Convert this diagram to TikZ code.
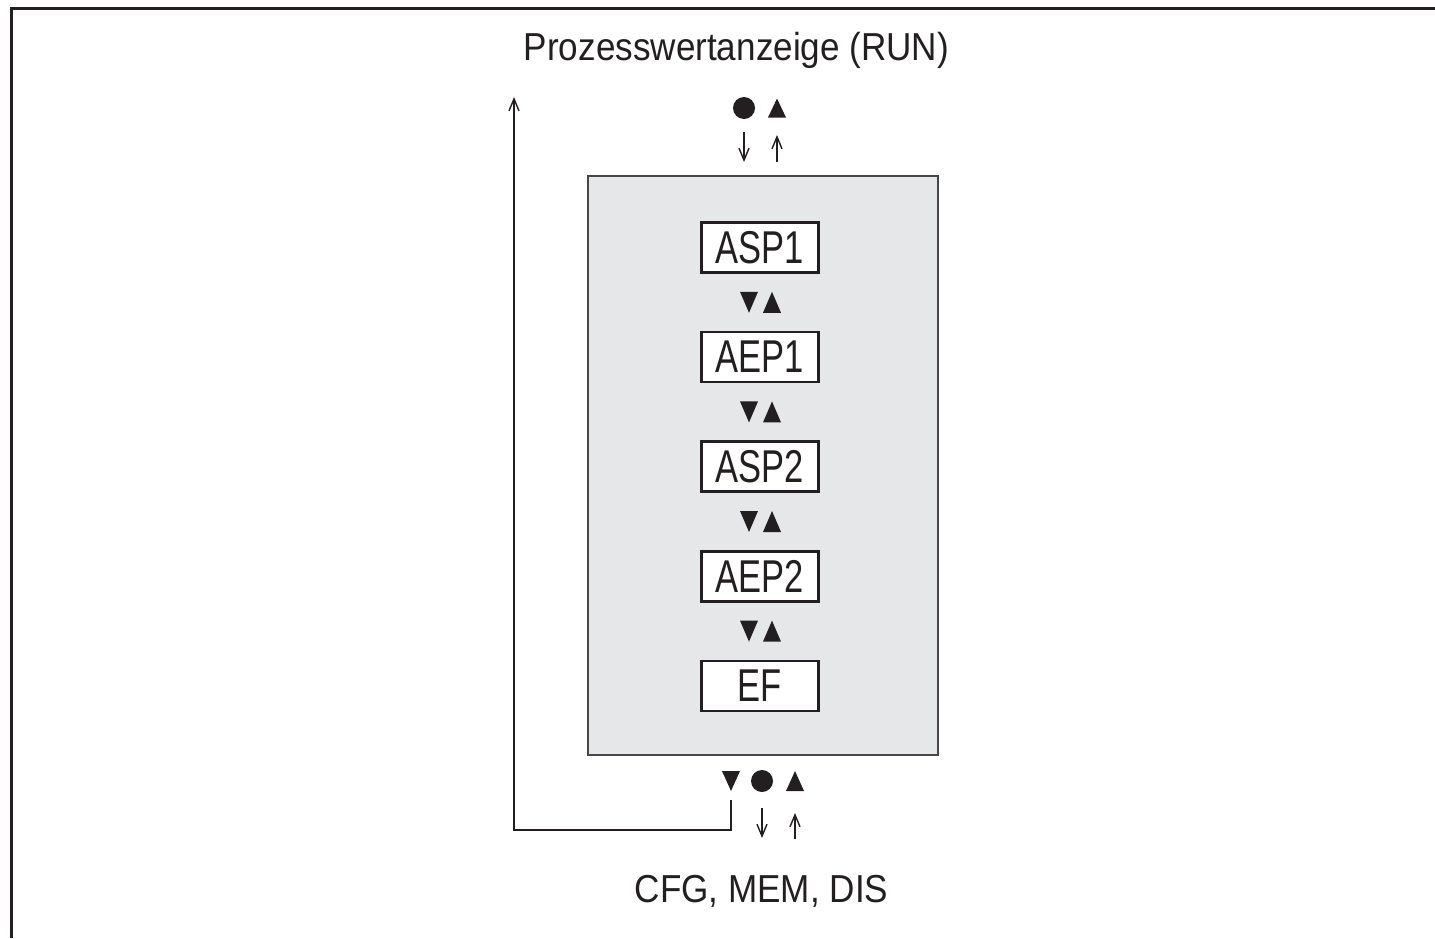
\documentclass[tikz,border=0pt]{standalone}
\usepackage{fontspec}
\setmainfont{Liberation Sans}
\newfontfamily\lblfont[FakeStretch=0.9]{Liberation Sans}
\newfontfamily\boxfont[FakeStretch=0.75]{Liberation Sans}
\usepackage{tikz}
\usetikzlibrary{positioning}
\usetikzlibrary{calc}
\usetikzlibrary{arrows.meta}
\definecolor{ink}{RGB}{35,31,32}
\definecolor{panelgray}{RGB}{230,231,232}
\definecolor{rimgray}{RGB}{70,70,72}

\begin{document}
\begin{tikzpicture}[x=1pt,y=-1pt,
        menubox/.style={draw=ink,line width=2.6pt,fill=white,minimum width=117pt,minimum height=50pt,inner sep=0pt,text=ink,font=\boxfont\fontsize{46}{46}\selectfont},
        keyset/.style={circle,fill=ink,minimum size=22pt,inner sep=0pt},
        flow/.style={draw=ink,line width=1.4pt,-{Straight Barb[length=12pt,width=10pt]}},
        caption/.style={anchor=base,text=ink,font=\lblfont\fontsize{39}{40}\selectfont}]
        \useasboundingbox (0,0) rectangle (1435,938);
        % frame
        \draw[ink,line width=3.5pt] (11.5,938) -- (11.5,8.5) -- (1435,8.5);
        \node[caption] (run) at (736.5,60) {Prozesswertanzeige (RUN)};
        \node[caption] (cfg) at (761.5,902) {CFG, MEM, DIS};
        % menu panel
        \node[draw=rimgray,line width=1.6pt,fill=panelgray,minimum width=350pt,minimum height=579pt] (panel) at (763,465.5) {};
        \node[menubox] (asp1) at (760,247.5) {ASP1};
        \node[menubox,below=57pt of asp1] (aep1) {AEP1};
        \node[menubox,below=57pt of aep1] (asp2) {ASP2};
        \node[menubox,below=57pt of asp2] (aep2) {AEP2};
        \node[menubox,below=57pt of aep2] (ef) {EF};
        \foreach \a/\b in {asp1/aep1,aep1/asp2,asp2/aep2,aep2/ef} {
            \coordinate (dn-\a) at ($(\a.south)!0.5!(\b.north)+(-11,0)$);
            \coordinate (up-\a) at ($(\a.south)!0.5!(\b.north)+(12,0)$);
            \fill[ink] ($(dn-\a)+(-9,-10.5)$) -- ++(18,0) -- ++(-9,21) -- cycle;
            \fill[ink] ($(up-\a)+(-9,10.5)$) -- ++(18,0) -- ++(-9,-21) -- cycle;
        }
        % keys to enter
        \node[keyset] (tset) at (744,108) {};
        \coordinate (tup) at (777,108);
        \fill[ink] ($(tup)+(-9,9.5)$) -- ++(18,0) -- ++(-9,-19) -- cycle;
        \draw[flow] ([yshift=-24pt]tset.center) -- ([yshift=-54pt]tset.center);
        \draw[flow] ([yshift=-54pt]tup) -- ([yshift=-27pt]tup);
        % keys to leave
        \coordinate (bdown) at (731,781);
        \node[keyset] (bset) at (762,781) {};
        \coordinate (bup) at (795,781);
        \fill[ink] ($(bdown)+(-9,-10)$) -- ++(18,0) -- ++(-9,20) -- cycle;
        \fill[ink] ($(bup)+(-9,10)$) -- ++(18,0) -- ++(-9,-20) -- cycle;
        \draw[flow] ([yshift=-27pt]bset.center) -- ([yshift=-57pt]bset.center);
        \draw[flow] ([yshift=-58pt]bup) -- ([yshift=-32pt]bup);
        \draw[flow] ([yshift=-19pt]bdown) -- ++(0,30) -| (514,97);
\end{tikzpicture}
\end{document}
